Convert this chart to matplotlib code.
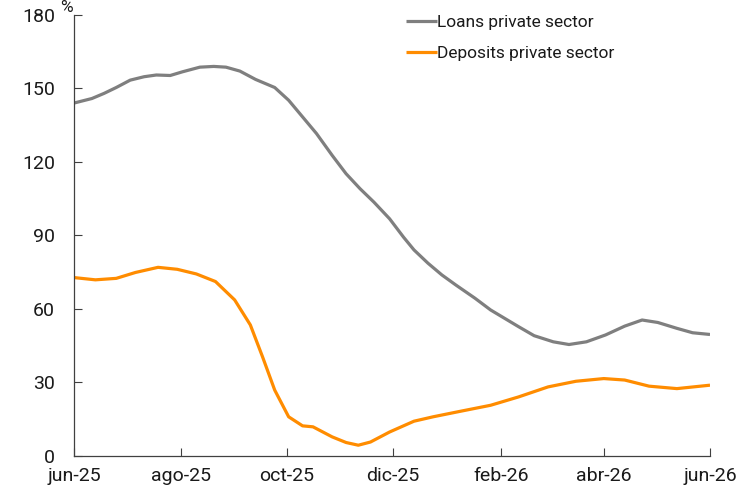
import pandas as pd
import matplotlib
matplotlib.use("Agg")
import matplotlib.pyplot as plt

plt.rcParams['font.family'] = ['Roboto', 'DejaVu Sans']

loan_dates = ['2025-06-01', '2025-06-11', '2025-06-18', '2025-06-25', '2025-07-03',
              '2025-07-11', '2025-07-18', '2025-07-26', '2025-08-02', '2025-08-12',
              '2025-08-20', '2025-08-27', '2025-09-04', '2025-09-13', '2025-09-24',
              '2025-10-02', '2025-10-10', '2025-10-18', '2025-10-27', '2025-11-04',
              '2025-11-12', '2025-11-20', '2025-11-29', '2025-12-07', '2025-12-13',
              '2025-12-21', '2025-12-29', '2026-01-06', '2026-01-17', '2026-01-26',
              '2026-02-03', '2026-02-11', '2026-02-20', '2026-03-03', '2026-03-12',
              '2026-03-22', '2026-04-02', '2026-04-13', '2026-04-23', '2026-05-02',
              '2026-05-13', '2026-05-22', '2026-06-01']
loans = [144.1, 145.9, 148.0, 150.4, 153.4, 154.8, 155.5, 155.3, 156.8, 158.7,
         159.0, 158.7, 157.1, 153.7, 150.4, 145.2, 138.4, 131.6, 122.7, 115.2,
         109.1, 103.6, 96.8, 89.3, 84.1, 78.7, 73.9, 69.8, 64.4, 59.6,
         56.2, 52.8, 49.1, 46.6, 45.5, 46.6, 49.4, 53.0, 55.5, 54.5,
         52.1, 50.3, 49.6]

dep_dates = ['2025-06-01', '2025-06-13', '2025-06-25', '2025-07-06', '2025-07-19',
             '2025-07-30', '2025-08-10', '2025-08-21', '2025-09-01', '2025-09-10',
             '2025-09-17', '2025-09-24', '2025-10-02', '2025-10-10', '2025-10-16',
             '2025-10-27', '2025-11-04', '2025-11-11', '2025-11-18', '2025-11-29',
             '2025-12-13', '2025-12-24', '2026-01-09', '2026-01-26', '2026-02-11',
             '2026-02-28', '2026-03-16', '2026-04-01', '2026-04-13', '2026-04-27',
             '2026-05-13', '2026-06-01']
deposits = [72.8, 71.9, 72.5, 74.9, 77.0, 76.2, 74.3, 71.2, 63.7, 53.5,
            40.5, 26.9, 16.0, 12.3, 11.9, 7.8, 5.5, 4.4, 5.7, 9.8,
            14.2, 16.0, 18.3, 20.7, 24.1, 28.2, 30.5, 31.6, 31.0, 28.5,
            27.5, 28.9]

tick_dates = ['2025-06-01', '2025-08-01', '2025-10-01', '2025-12-01',
              '2026-02-01', '2026-04-01', '2026-06-01']
tick_labels = ['jun-25', 'ago-25', 'oct-25', 'dic-25', 'feb-26', 'abr-26', 'jun-26']

fig = plt.figure(figsize=(7.53, 4.91), dpi=100)
ax = fig.add_axes([0.0989, 0.0713, 0.844, 0.8982])

ax.plot(pd.to_datetime(loan_dates), loans, color='#7f7f7f', lw=2.3,
        label='Loans private sector', solid_capstyle='butt')
ax.plot(pd.to_datetime(dep_dates), deposits, color='#ff8c00', lw=2.3,
        label='Deposits private sector', solid_capstyle='butt')

ax.set_ylim(0, 180)
ax.set_yticks(range(0, 181, 30))
ax.set_xlim(pd.Timestamp(tick_dates[0]), pd.Timestamp(tick_dates[-1]))
ax.set_xticks(pd.to_datetime(tick_dates))
ax.set_xticklabels(tick_labels)

for s in ['top', 'right']:
    ax.spines[s].set_visible(False)
for s in ['left', 'bottom']:
    ax.spines[s].set_color('#404040')
    ax.spines[s].set_linewidth(0.9)
ax.tick_params(axis='y', direction='in', length=6, color='#404040',
               labelsize=14, pad=14, labelcolor='#1a1a1a')
ax.tick_params(axis='x', direction='in', length=6, color='#404040',
               labelsize=14, pad=8, labelcolor='#1a1a1a')

fig.text(73 / 753, 1.0, '%', fontsize=12.5, ha='right', va='top', color='#1a1a1a')

ax.legend(loc='upper left', bbox_to_anchor=(406 / 753, 1 - 15 / 491),
          bbox_transform=fig.transFigure, frameon=False, borderpad=0,
          borderaxespad=0, fontsize=12.5, handlelength=1.8, handletextpad=0.0,
          labelspacing=0.9, labelcolor='#1a1a1a')

fig.savefig('out.png', dpi=100)
